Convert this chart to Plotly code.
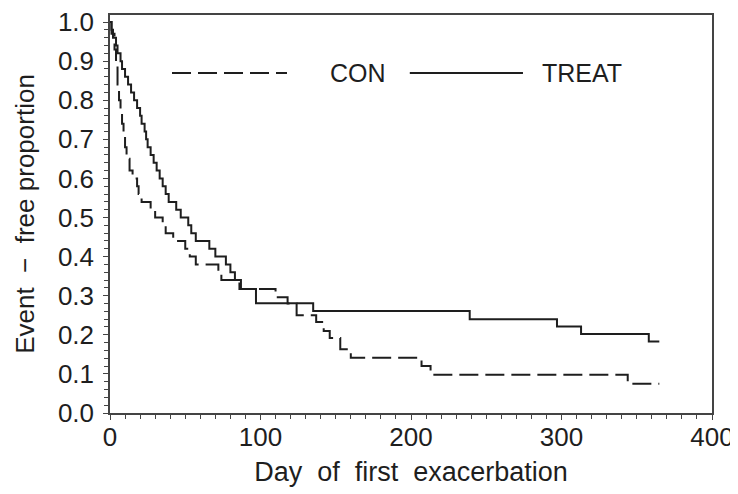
import plotly.graph_objects as go

# Kaplan-Meier step data (day, event-free proportion)
con_days = [0, 1, 3, 4, 5, 6, 7, 8, 9, 10, 11, 13, 15, 18, 19, 21, 27, 30, 35, 37, 42,
            50, 53, 57, 72, 74, 86, 110, 118, 124, 137, 142, 146, 153, 160, 207, 213, 344, 365]
con_prop = [1.0, 0.97, 0.93, 0.89, 0.84, 0.80, 0.77, 0.74, 0.71, 0.68, 0.65, 0.62, 0.60,
            0.58, 0.56, 0.54, 0.52, 0.50, 0.48, 0.46, 0.44, 0.42, 0.40, 0.38, 0.36, 0.34,
            0.317, 0.296, 0.28, 0.25, 0.233, 0.21, 0.192, 0.163, 0.141, 0.12, 0.098, 0.075, 0.075]

treat_days = [0, 1, 2, 4, 5, 7, 8, 10, 12, 14, 16, 18, 20, 21, 23, 24, 25, 27, 29, 31, 33,
              35, 37, 39, 44, 47, 52, 54, 57, 66, 70, 77, 80, 83, 87, 97, 135, 239, 297,
              313, 358, 365]
treat_prop = [1.0, 0.98, 0.96, 0.94, 0.92, 0.90, 0.88, 0.86, 0.84, 0.82, 0.80, 0.78, 0.76,
              0.74, 0.72, 0.70, 0.68, 0.66, 0.64, 0.62, 0.60, 0.58, 0.56, 0.54, 0.52, 0.50,
              0.48, 0.46, 0.44, 0.42, 0.40, 0.38, 0.36, 0.34, 0.317, 0.281, 0.261, 0.240,
              0.221, 0.202, 0.183, 0.183]

series_names = ["CON", "TREAT"]
x_tick_vals = [0, 100, 200, 300, 400]
y_tick_vals = [round(i * 0.1, 1) for i in range(11)]
y_tick_text = [f"{v:.1f}" for v in y_tick_vals]

FONT = "Liberation Sans, Arial, sans-serif"
INK = "#1e1e1e"
DASH = "19px,7px"
NB = "\u00a0"

fig = go.Figure()
fig.add_trace(go.Scatter(x=con_days, y=con_prop, mode="lines", line_shape="hv",
                         line=dict(color=INK, width=2, dash=DASH), name=series_names[0],
                         showlegend=False))
fig.add_trace(go.Scatter(x=treat_days, y=treat_prop, mode="lines", line_shape="hv",
                         line=dict(color=INK, width=2), name=series_names[1],
                         showlegend=False))

# Legend drawn as layout decoration (paper coordinates)
fig.add_shape(type="line", xref="paper", yref="paper", x0=0.103, x1=0.294, y0=0.854, y1=0.854,
              line=dict(color=INK, width=2, dash=DASH))
fig.add_shape(type="line", xref="paper", yref="paper", x0=0.498, x1=0.686, y0=0.854, y1=0.854,
              line=dict(color=INK, width=2))
fig.add_annotation(text=series_names[0], xref="paper", yref="paper", x=0.362, y=0.854,
                   showarrow=False, xanchor="left", yanchor="middle",
                   font=dict(family=FONT, size=25, color=INK))
fig.add_annotation(text=series_names[1], xref="paper", yref="paper", x=0.715, y=0.854,
                   showarrow=False, xanchor="left", yanchor="middle",
                   font=dict(family=FONT, size=25, color=INK))

axis_common = dict(showline=True, linecolor="#444", linewidth=1.5, mirror=True,
                   showgrid=False, zeroline=False, ticks="outside", ticklen=5,
                   tickwidth=1.2, tickcolor="#444", automargin=False,
                   ticklabeloverflow="allow",
                   tickfont=dict(family=FONT, size=26, color=INK))

fig.update_xaxes(range=[0, 400], tickvals=x_tick_vals,
                 minor=dict(dtick=10, ticks="outside", ticklen=4, tickcolor="#444", tickwidth=1),
                 title=dict(text=f"Day{NB} of{NB} first{NB} exacerbation", standoff=11,
                            font=dict(family=FONT, size=27, color=INK)),
                 ticklabelstandoff=-5, **axis_common)
fig.update_yaxes(range=[0, 1.018], tickvals=y_tick_vals, ticktext=y_tick_text,
                 minor=dict(dtick=0.02, ticks="outside", ticklen=4, tickcolor="#444", tickwidth=1),
                 title=dict(text=f"Event{NB} −{NB} free proportion", standoff=16,
                            font=dict(family=FONT, size=26, color=INK)),
                 ticklabelstandoff=4, **axis_common)

# the page body adds an 8px offset; figure is sized so the plot sits where the reference has it
fig.update_layout(width=730, height=486, margin=dict(l=102, r=26, t=7, b=81),
                  plot_bgcolor="white", paper_bgcolor="white", showlegend=False)

fig.write_html("out.html")
